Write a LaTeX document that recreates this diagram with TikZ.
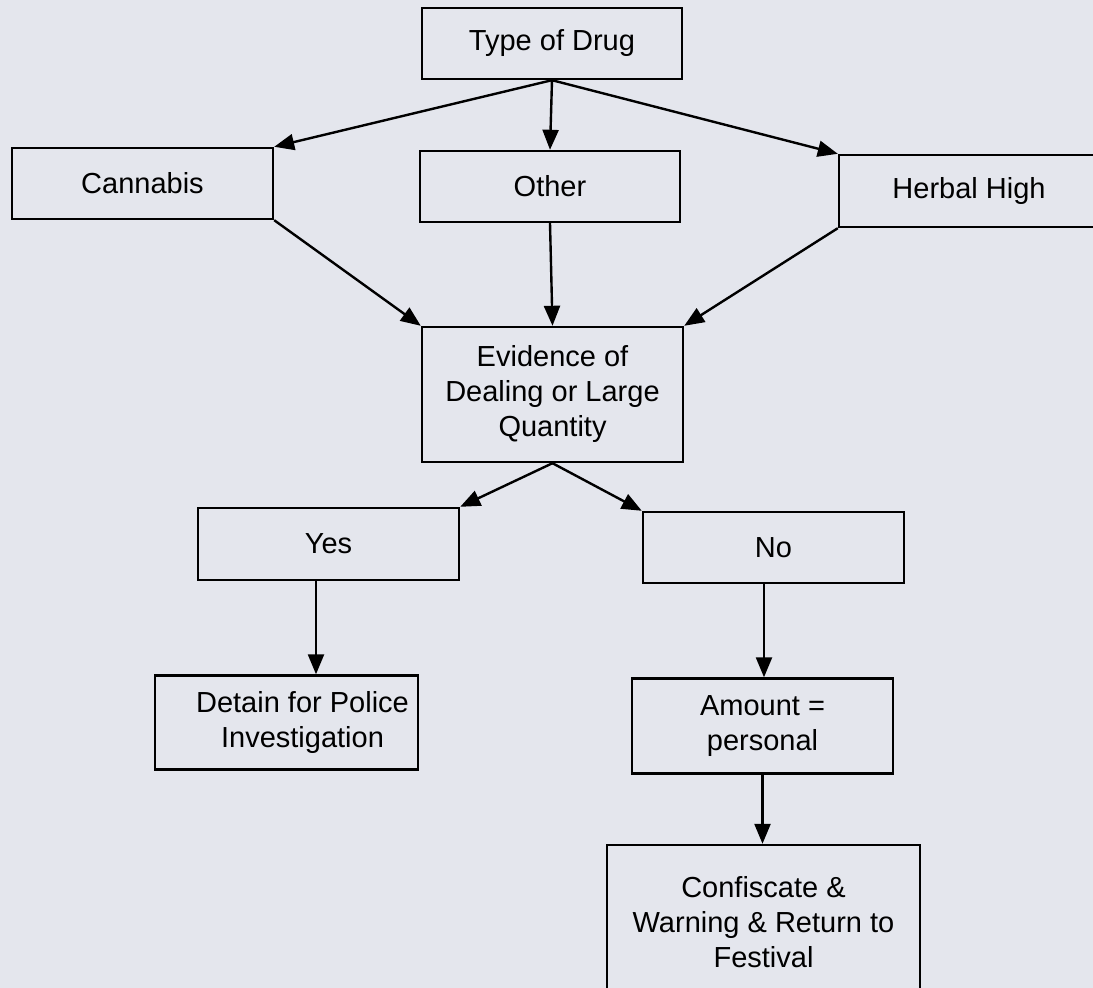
\documentclass[tikz,border=0pt]{standalone}
\usepackage{fontspec}
\setmainfont{Liberation Sans}
\usetikzlibrary{arrows.meta,calc}
\definecolor{paper}{RGB}{228,230,237}
\tikzset{
  box/.style={draw=black, line width=1.2pt, inner sep=0pt, align=center,
    font=\fontsize{14.5}{17.5}\selectfont},
  arr/.style={line width=1.2pt, -{Triangle[length=10pt,width=8pt]}}
}
\begin{document}
\begin{tikzpicture}[x=0.5pt,y=-0.5pt]
\fill[paper] (0,0) rectangle (1093,988);
\useasboundingbox (0,0) rectangle (1093,988);
\node[box, minimum width=130pt, minimum height=35.5pt] (type) at (552,43.5) {Type of Drug};
\node[box, minimum width=130.5pt, minimum height=35.5pt] (cann) at (142.5,183.5) {Cannabis};
\node[box, minimum width=130pt, minimum height=35.5pt] (other) at (550,186.5) {Other};
\node[box, minimum width=130pt, minimum height=36pt] (herb) at (969,191) {Herbal High};
\node[box, minimum width=130.5pt, minimum height=67.5pt] (evid) at (552.5,394.5) {Evidence of\\Dealing or Large\\Quantity};
\node[box, minimum width=130.5pt, minimum height=36pt] (yes) at (328.5,544) {Yes};
\node[box, minimum width=130.5pt, minimum height=35.5pt] (no) at (773.5,547.5) {No};
\node[box, minimum width=131.5pt, minimum height=47pt] (det) at (286.5,722.5) {\hspace*{16pt}Detain for Police\\\hspace*{16pt}Investigation};
\node[box, minimum width=130.5pt, minimum height=47.5pt] (amt) at (762.5,726) {Amount =\\personal};
\node[box, minimum width=156.5pt, minimum height=77pt] (conf) at (763.5,922) {Confiscate \&\\Warning \& Return to\\Festival};
\draw[arr] (type.south) -- (cann.north east);
\draw[arr] (type.south) -- (other.north);
\draw[arr] (type.south) -- (herb.north west);
\draw[arr] (cann.south east) -- (evid.north west);
\draw[arr] (other.south) -- (evid.north);
\draw[arr] (herb.south west) -- (evid.north east);
\draw[arr] (evid.south) -- (yes.north east);
\draw[arr] (evid.south) -- (no.north west);
\draw[arr] ([xshift=-6.25pt]yes.south) -- ([xshift=-6.25pt]yes.south |- det.north);
\draw[arr] ([xshift=-4.75pt]no.south) -- ([xshift=-4.75pt]no.south |- amt.north);
\draw[arr] (amt.south) -- (amt.south |- conf.north);
\end{tikzpicture}
\end{document}
